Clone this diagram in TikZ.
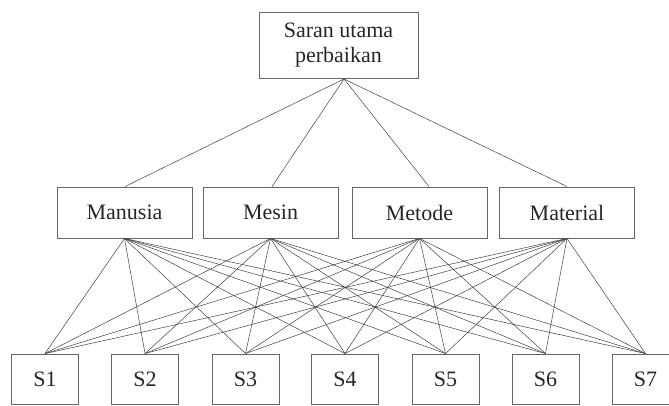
\documentclass[tikz,border=0pt]{standalone}
\usepackage{fontspec}
\setmainfont{Liberation Serif}
\begin{document}
\begin{tikzpicture}[x=1pt,y=-1pt,
  box/.style={draw=black!60,line width=0.9pt,inner sep=0pt,font=\fontsize{22}{25}\selectfont,align=center,text=black!85},
  midbox/.style={box,minimum width=135,minimum height=51},
  sbox/.style={box,minimum width=67,minimum height=50},
  link/.style={draw=black!75,line width=0.5pt}]
\useasboundingbox (0,0) rectangle (669,406);
% root
\node[box,minimum width=159,minimum height=66] (root) at (338.5,45) {Saran utama\\perbaikan};
\coordinate (hub) at (344,79);
% categories
\node[midbox] (m1) at (124.5,212.5) {Manusia};
\node[midbox] (m2) at (270.5,212.5) {Mesin};
\node[midbox] (m3) at (419.5,212.5) {Metode};
\node[midbox] (m4) at (567,212.5) {Material};
% suggestions
\foreach \i/\x in {1/45,2/145,3/245.5,4/345,5/445.5,6/545.5,7/645.5}
  \node[sbox] (s\i) at (\x,379) {S\i};
% root to categories
\draw[link] (hub) -- ([xshift=0.5]m1.north);
\draw[link] (hub) -- ([xshift=1.5]m2.north);
\draw[link] (hub) -- ([xshift=9.5]m3.north);
\draw[link] (hub) -- (m4.north);
% every category to every suggestion
\foreach \m in {1,2,3,4}
  \foreach \s in {1,...,7}
    \draw[link] (m\m.south) -- (s\s.north);
\end{tikzpicture}
\end{document}
